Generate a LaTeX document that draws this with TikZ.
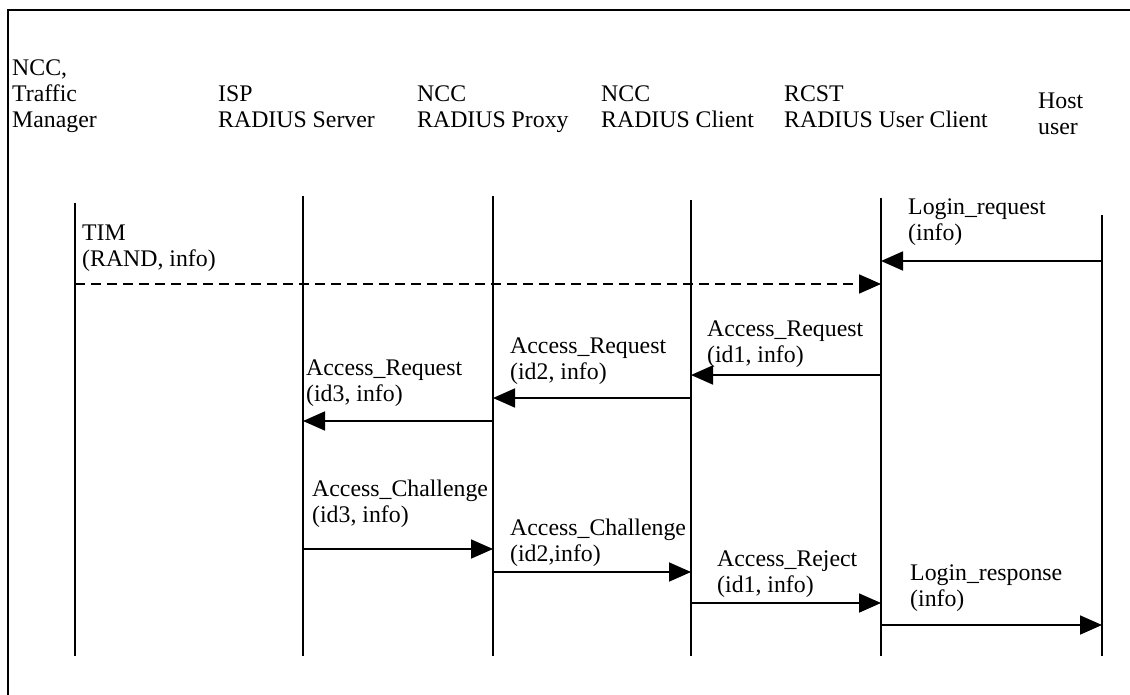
\documentclass[tikz,border=0pt]{standalone}
\usepackage{fontspec}
\setmainfont{Liberation Serif}
\usetikzlibrary{arrows.meta}
\begin{document}
\begin{tikzpicture}[x=1pt,y=-1pt,
  lbl/.style={anchor=north west,inner sep=0pt,align=left,font=\fontsize{23.8}{26}\selectfont},
  life/.style={line width=1.2pt},
  msg/.style={line width=1.8pt,-{Triangle[length=22pt,width=19pt]}},
  dmsg/.style={msg,dash pattern=on 10pt off 6pt}]
\useasboundingbox (0,0) rectangle (1130,695);
% frame
\draw[line width=1.5pt] (8,695) -- (8,10) -- (1130,10);
% headers
\node[lbl] (h1) at (12,60) {NCC,\\Traffic\\Manager};
\node[lbl] (h2) at (218,86) {ISP\\RADIUS Server};
\node[lbl] (h3) at (417,86) {NCC\\RADIUS Proxy};
\node[lbl] (h4) at (601,86) {NCC\\RADIUS Client};
\node[lbl] (h5) at (784,86) {RCST\\RADIUS User Client};
\node[lbl] (h6) at (1038,93) {Host\\user};
% lifelines
\coordinate (t1) at (75,203);  \coordinate (b1) at (75,656);
\coordinate (t2) at (303,196); \coordinate (b2) at (303,656);
\coordinate (t3) at (493,196); \coordinate (b3) at (493,656);
\coordinate (t4) at (691,200); \coordinate (b4) at (691,656);
\coordinate (t5) at (881,198); \coordinate (b5) at (881,656);
\coordinate (t6) at (1102,215);\coordinate (b6) at (1102,656);
\foreach \i in {1,...,6} \draw[life] (t\i) -- (b\i);
% messages
\draw[msg] (t6 |- 0,261) -- (t5 |- 0,261);
\node[lbl] (m1) at (908,199) {Login\_request\\(info)};
\draw[dmsg] (t1 |- 0,284) -- (t5 |- 0,284);
\node[lbl] (m2) at (82,225) {TIM\\(RAND, info)};
\draw[msg] (t5 |- 0,375) -- (t4 |- 0,375);
\node[lbl] (m3) at (707,321) {Access\_Request\\(id1, info)};
\draw[msg] (t4 |- 0,398) -- (t3 |- 0,398);
\node[lbl] (m4) at (510,338) {Access\_Request\\(id2, info)};
\draw[msg] (t3 |- 0,421) -- (t2 |- 0,421);
\node[lbl] (m5) at (306,360) {Access\_Request\\(id3, info)};
\draw[msg] (t2 |- 0,549) -- (t3 |- 0,549);
\node[lbl] (m6) at (312,480) {Access\_Challenge\\(id3, info)};
\draw[msg] (t3 |- 0,572) -- (t4 |- 0,572);
\node[lbl] (m7) at (510,519) {Access\_Challenge\\(id2,info)};
\draw[msg] (t4 |- 0,603) -- (t5 |- 0,603);
\node[lbl] (m8) at (717,551) {Access\_Reject\\(id1, info)};
\draw[msg] (t5 |- 0,625) -- (t6 |- 0,625);
\node[lbl] (m9) at (910,565) {Login\_response\\(info)};
\end{tikzpicture}
\end{document}
